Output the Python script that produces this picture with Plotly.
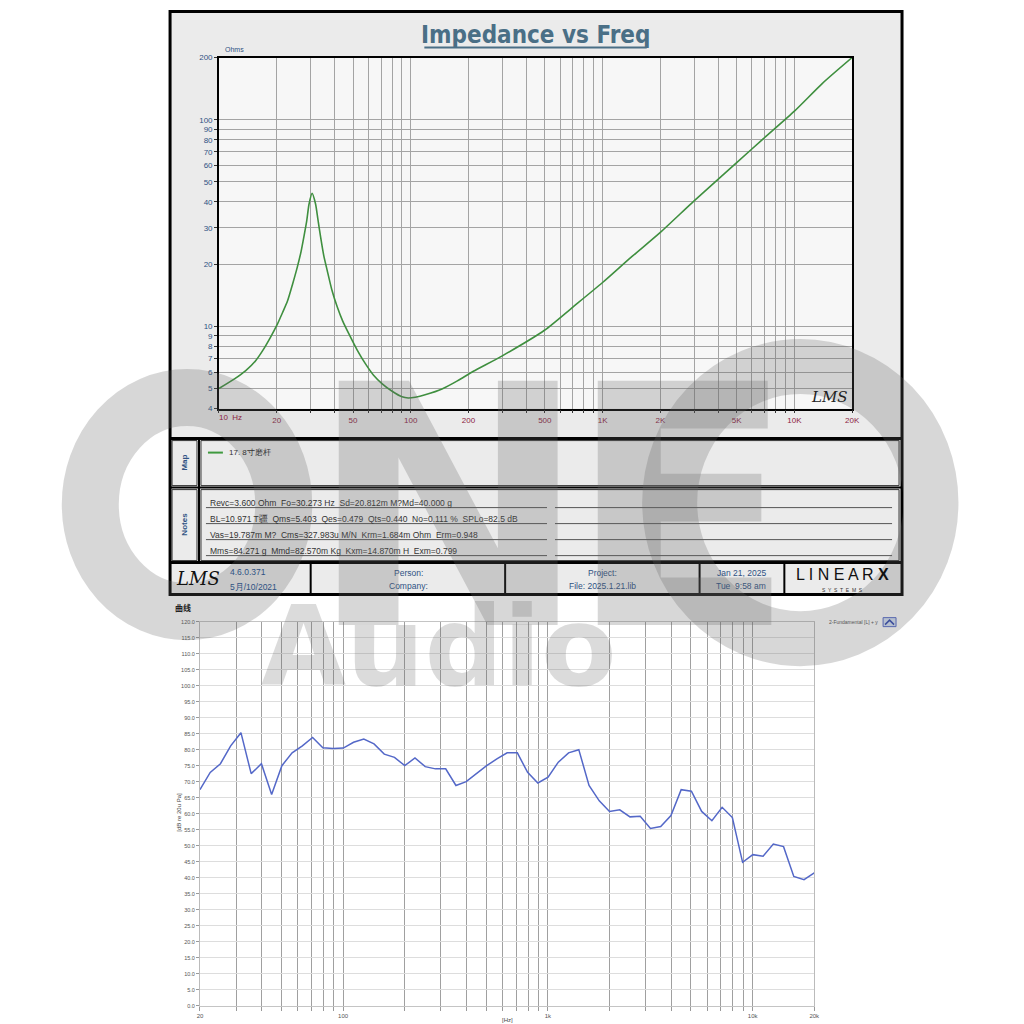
import math
import plotly.graph_objects as go

# ---------------- data ----------------
# Impedance curve (top chart)
imp_freq = [10, 12, 13.8, 15.5, 16.9, 18.5, 20.2, 21.5, 22.8, 24.2, 25.6, 26.8, 27.8, 28.7,
            29.5, 30.6, 31.9, 32.8, 33.9, 35.2, 36.7, 38.8, 41.4, 44.2, 47.6,
            52.5, 58.1, 64, 71.0, 80, 90.1, 97, 105.6, 120, 145.5, 175, 212,
            300, 500, 700, 1000, 1400, 2000, 3000, 5000, 7000, 10000, 14000, 20000]
imp_ohm = [5.0, 5.55, 6.11, 6.8, 7.63, 8.8, 10.28, 11.7, 13.3, 16.0, 19.3, 23.0, 27.5, 32.5,
           39.1, 44.0, 39.1, 33.0, 27.0, 22.0, 18.6, 15.0, 12.4, 10.6, 9.19,
           7.7, 6.58, 5.8, 5.27, 4.85, 4.56, 4.5, 4.54, 4.68, 4.98, 5.45, 6.06,
           7.2, 9.6, 12.4, 16.3, 21.5, 28.5, 40.5, 62.0, 82.0, 110.0, 150.0, 200.0]

top_xgrid = [10, 20, 30, 40, 50, 60, 70, 80, 90,
             100, 200, 300, 400, 500, 600, 700, 800, 900,
             1000, 2000, 3000, 4000, 5000, 6000, 7000, 8000, 9000,
             10000, 20000]
top_xlabels = ["", "20", "", "", "50", "", "", "", "",
               "100", "200", "", "", "500", "", "", "", "",
               "1K", "2K", "", "", "5K", "", "", "", "",
               "10K", "20K"]
top_ygrid = [4, 5, 6, 7, 8, 9, 10, 20, 30, 40, 50, 60, 70, 80, 90, 100, 200]
top_ylabels = ["4", "5", "6", "7", "8", "9", "10", "20", "30", "40", "50",
               "60", "70", "80", "90", "100", "200"]

# SPL curve (bottom chart)
spl_freq = [20, 22.44, 25.18, 28.25, 31.70, 35.57, 39.91, 44.77, 50.24, 56.37,
            63.25, 70.96, 79.62, 89.34, 100.24, 112.47, 126.19, 141.59, 158.87, 178.25,
            200, 224.4, 251.8, 282.5, 317.0, 355.7, 399.1, 447.7, 502.4, 563.7,
            632.5, 709.6, 796.2, 893.4, 1002.4, 1124.7, 1261.9, 1415.9, 1588.7, 1782.5,
            2000, 2244, 2518, 2825, 3170, 3557, 3991, 4477, 5024, 5637,
            6325, 7096, 7962, 8934, 10024, 11247, 12619, 14159, 15887, 17825, 20000]
spl_db = [67.5, 72.9, 75.6, 81.2, 85.3, 72.5, 75.6, 66.0, 75.0, 79.0,
          81.2, 83.8, 80.6, 80.4, 80.5, 82.3, 83.3, 81.8, 78.6, 77.6,
          75.0, 77.4, 74.7, 74.0, 74.0, 68.8, 70.0, 72.4, 75.0, 77.1,
          79.0, 79.0, 72.9, 69.6, 71.4, 76.1, 79.0, 80.0, 68.8, 64.0,
          60.7, 61.2, 59.0, 59.2, 55.4, 56.0, 59.4, 67.5, 67.0, 60.7,
          57.8, 62.0, 58.8, 44.8, 47.2, 46.7, 50.5, 49.7, 40.4, 39.4, 41.5]

bot_xgrid = [20, 30, 40, 50, 60, 70, 80, 90,
             100, 200, 300, 400, 500, 600, 700, 800, 900,
             1000, 2000, 3000, 4000, 5000, 6000, 7000, 8000, 9000,
             10000, 20000]
bot_xlabels = ["20", "", "", "", "", "", "", "",
               "100", "", "", "", "", "", "", "", "",
               "1k", "", "", "", "", "", "", "", "",
               "10k", "20k"]

notes_lines = [
    "Revc=3.600 Ohm  Fo=30.273 Hz  Sd=20.812m M?Md=40.000 g",
    "BL=10.971 T疆  Qms=5.403  Qes=0.479  Qts=0.440  No=0.111 %  SPLo=82.5 dB",
    "Vas=19.787m M?  Cms=327.983u M/N  Krm=1.684m Ohm  Erm=0.948",
    "Mms=84.271 g  Mmd=82.570m Kg  Kxm=14.870m H  Exm=0.799",
]
legend_name = "17. 8寸磨杆"

# ---------------- helpers ----------------
# map target screenshot pixels to paper coordinates (page is shown slightly offset/scaled)
SX, OX = 0.992, 9.5
SY, OY = 0.991, 11.5
def X(p):
    return ((p - OX) / SX) / 1024.0
def Y(p):
    return 1 - ((p - OY) / SY) / 1024.0

FONT = "Liberation Sans, Arial, sans-serif"
BLUE = "#2f5283"
WM = "rgba(100,100,100,0.26)"

fig = go.Figure()
fig.add_trace(go.Scatter(x=imp_freq, y=imp_ohm, xaxis="x", yaxis="y", mode="lines",
                         line=dict(color="#3f8f3f", width=1.6, shape="spline", smoothing=0.6),
                         showlegend=False, hoverinfo="skip"))
fig.add_trace(go.Scatter(x=spl_freq, y=spl_db, xaxis="x2", yaxis="y2", mode="lines",
                         line=dict(color="#5468c8", width=1.5),
                         showlegend=False, hoverinfo="skip"))

shapes = []
def rect(x0, y0, x1, y1, fill=None, lc="black", lw=1, layer="above"):
    shapes.append(dict(type="rect", xref="paper", yref="paper",
                       x0=X(x0), x1=X(x1), y0=Y(y1), y1=Y(y0),
                       fillcolor=fill if fill else "rgba(0,0,0,0)",
                       line=dict(color=lc, width=lw), layer=layer))
def line(x0, y0, x1, y1, lc="black", lw=1, layer="above"):
    shapes.append(dict(type="line", xref="paper", yref="paper",
                       x0=X(x0), x1=X(x1), y0=Y(y0), y1=Y(y1),
                       line=dict(color=lc, width=lw), layer=layer))

# panel backgrounds
rect(169, 11, 903, 594, fill="#ebebeb", lc="rgba(0,0,0,0)", lw=0, layer="below")
rect(218, 57, 853, 408, fill="#f7f7f7", lc="rgba(0,0,0,0)", lw=0, layer="below")
# panel frame and sections
rect(169, 11, 903, 594, lc="black", lw=3)
line(169, 438, 903, 438, lw=3)
line(169, 487, 903, 487, lw=2)
line(169, 562, 903, 562, lw=3)
line(198, 438, 198, 562, lw=2)
rect(200, 440, 900, 485, lc="#333333", lw=1)
rect(200, 489, 900, 560, lc="#333333", lw=1)
rect(171, 440, 196, 485, lc="#333333", lw=1)
rect(171, 489, 196, 560, lc="#333333", lw=1)
for xv in [310, 505, 700, 785]:
    line(xv, 562, xv, 594, lw=2)
# notes underlines
for yv in [507, 523, 539, 555]:
    line(205, yv, 547, yv, lc="#555555", lw=1)
    line(555, yv, 893, yv, lc="#555555", lw=1)
# legend sample
line(207, 452, 222, 452, lc="#3f9a3f", lw=2)
# title underline
line(424, 47, 647, 47, lc="#4a6f86", lw=2)
# bottom legend icon
rect(884, 617, 897, 626, fill="#d4e0f4", lc="#5468c8", lw=1)
shapes.append(dict(type="path", xref="paper", yref="paper",
                   path="M %f %f L %f %f L %f %f" % (X(886), Y(624), X(890.5), Y(619.5), X(895), Y(624)),
                   line=dict(color="#3048b0", width=1.5), layer="above"))

# watermark rings ("O" and the right-hand circle)
shapes.append(dict(type="circle", xref="paper", yref="paper",
                   x0=X(89), x1=X(283), y0=Y(611), y1=Y(397),
                   line=dict(color=WM, width=57),
                   fillcolor="rgba(0,0,0,0)", layer="above"))
shapes.append(dict(type="circle", xref="paper", yref="paper",
                   x0=X(670), x1=X(932), y0=Y(638), y1=Y(366),
                   line=dict(color=WM, width=55),
                   fillcolor="rgba(0,0,0,0)", layer="above"))

annotations = []
def ann(text, x, y, size=8, color="black", xa="center", ya="middle", family=FONT, angle=0):
    annotations.append(dict(text=text, x=X(x), y=Y(y), xref="paper", yref="paper",
                            xanchor=xa, yanchor=ya, showarrow=False, textangle=angle,
                            font=dict(size=size, color=color, family=family)))

ann("<b>Impedance vs Freq</b>", 535, 34, size=24, color="#4a6f86",
    family="Liberation Sans Narrow, DejaVu Sans Condensed, Liberation Sans, Arial")
ann("Ohms", 222, 49, size=7, color=BLUE, xa="left")
ann("10  Hz", 216, 417, size=8, color="#8c2343", xa="left")
ann("<i>LMS</i>", 830, 396, size=15, color="#222222", family="DejaVu Serif, serif")
ann("<b>Map</b>", 184, 462, size=8, color=BLUE, angle=-90)
ann("<b>Notes</b>", 184, 524, size=8, color=BLUE, angle=-90)
ann(legend_name, 226, 452, size=8, color="#333333", xa="left")
for i, t in enumerate(notes_lines):
    ann(t, 207, 502 + 16 * i, size=8.5, color="#333333", xa="left")
# footer
ann("<i>LMS</i>", 197, 578, size=18, color="#111111", family="DejaVu Serif, serif")
ann("4.6.0.371", 227, 571, size=8.5, color=BLUE, xa="left")
ann("5月/10/2021", 227, 586, size=8.5, color=BLUE, xa="left")
ann("Person:", 408, 572, size=8.5, color=BLUE)
ann("Company:", 408, 585, size=8.5, color=BLUE)
ann("Project:", 603, 572, size=8.5, color=BLUE)
ann("File: 2025.1.21.lib", 603, 585, size=8.5, color=BLUE)
ann("Jan 21, 2025", 742, 572, size=8.5, color=BLUE)
ann("Tue  9:58 am", 742, 585, size=8.5, color=BLUE)
ann("L I N E A R <b>X</b>", 843, 574, size=16, color="#111111")
ann("S  Y  S  T  E  M  S", 843, 589, size=5, color="#333333")
# bottom chart texts
ann("<b>曲线</b>", 172, 607, size=8, color="#222222", xa="left",
    family="Noto Sans CJK SC, sans-serif")
ann("[dB re 20u Pa]", 178, 812, size=6, color="#444444", angle=-90)
ann("[Hz]", 507, 1019, size=6, color="#444444")
ann("2-Fundamental [L] + y", 881, 621, size=5, color="#555555", xa="right")
# watermark text
ann("<b>N</b>", 448, 508, size=335, color=WM, family="DejaVu Sans, sans-serif")
ann("<b>E</b>", 682, 508, size=335, color=WM, family="DejaVu Sans, sans-serif")
ann("<b>Audio</b>", 438, 646, size=110, color="rgba(100,100,100,0.23)",
    family="DejaVu Sans, sans-serif")

fig.update_layout(
    width=1024, height=1024,
    margin=dict(l=0, r=0, t=0, b=0),
    paper_bgcolor="white", plot_bgcolor="rgba(0,0,0,0)",
    font=dict(family=FONT),
    showlegend=False,
    shapes=shapes, annotations=annotations,
    xaxis=dict(type="log", range=[1, math.log10(20000)], domain=[X(218), X(853)], anchor="y",
               tickmode="array", tickvals=top_xgrid, ticktext=top_xlabels,
               showgrid=True, gridcolor="#a4a4a4", gridwidth=1, zeroline=False,
               showline=True, mirror=True, linecolor="black", linewidth=1.5,
               ticks="outside", ticklen=3, tickcolor="#333333",
               tickfont=dict(size=8, color="#8c2343")),
    yaxis=dict(type="log", range=[math.log10(4), math.log10(200)], domain=[Y(408), Y(57)], anchor="x",
               tickmode="array", tickvals=top_ygrid, ticktext=top_ylabels,
               showgrid=True, gridcolor="#a4a4a4", gridwidth=1, zeroline=False,
               showline=True, mirror=True, linecolor="black", linewidth=1.5,
               ticks="outside", ticklen=3, tickcolor="#333333",
               tickfont=dict(size=8, color=BLUE)),
    xaxis2=dict(type="log", range=[math.log10(20), math.log10(20000)], domain=[X(199), X(815)], anchor="y2",
                tickmode="array", tickvals=bot_xgrid, ticktext=bot_xlabels,
                showgrid=True, gridcolor="#a0a0a0", gridwidth=1.2, zeroline=False,
                showline=True, mirror=True, linecolor="#c4c4c4", linewidth=1,
                ticks="outside", ticklen=4, tickcolor="#999999",
                tickfont=dict(size=6, color="#555555")),
    yaxis2=dict(range=[0, 120], domain=[Y(1005), Y(621)], anchor="x2",
                tickmode="linear", tick0=0, dtick=5, tickformat=".1f",
                showgrid=True, gridcolor="#dddddd", gridwidth=1, zeroline=False,
                showline=True, mirror=True, linecolor="#bbbbbb", linewidth=1,
                ticks="outside", ticklen=3, tickcolor="#999999",
                tickfont=dict(size=5.5, color="#555555")),
)

fig.write_html("out.html")
